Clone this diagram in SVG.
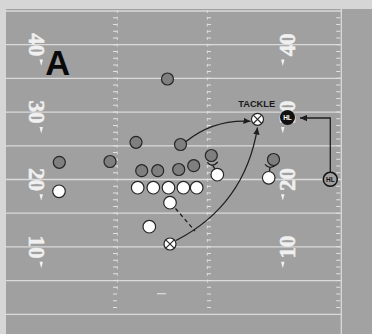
<svg xmlns="http://www.w3.org/2000/svg" width="372" height="334" viewBox="0 0 372 334">
<defs>
<style>
.yl{stroke:#dadada;stroke-width:1.3}
.tk{stroke:#e2e2e2;stroke-width:4;stroke-dasharray:1 5.74}
.hl{stroke:#e2e2e2;stroke-width:1;stroke-dasharray:3 3.74;opacity:.85}
.num{font-family:"Liberation Serif",serif;font-weight:bold;font-size:23px;fill:#f0f0f0;stroke:#f0f0f0;stroke-width:.5;text-anchor:middle}
.tri{fill:#f0f0f0}
.def{fill:#7f7f7f;stroke:#262626;stroke-width:1.2}
.off{fill:#ffffff;stroke:#262626;stroke-width:1.2}
.x{stroke:#262626;stroke-width:1.1}
.conn{fill:none;stroke:#1e1e1e;stroke-width:1.3}
.lbl{font-family:"Liberation Sans",Arial,sans-serif;font-weight:bold;text-anchor:middle}
</style>
<marker id="ah" viewBox="0 0 10 10" refX="10" refY="5" markerWidth="7" markerHeight="7" markerUnits="userSpaceOnUse" orient="auto">
<path d="M0,0.5 L10,5 L0,9.5 z" fill="#1e1e1e"/>
</marker>
</defs>
<rect x="0" y="0" width="372" height="334" fill="#d6d6d6"/>
<rect x="6" y="9" width="366" height="325" fill="#a0a0a0"/>
<rect x="342" y="9" width="29.5" height="325" fill="#a2a2a2"/>
<g id="field">
<line class="yl" x1="6" y1="11" x2="342" y2="11"/>
<line class="yl" x1="6" y1="44.7" x2="342" y2="44.7"/>
<line class="yl" x1="6" y1="78.4" x2="342" y2="78.4"/>
<line class="yl" x1="6" y1="112.1" x2="342" y2="112.1"/>
<line class="yl" x1="6" y1="145.8" x2="342" y2="145.8"/>
<line class="yl" x1="6" y1="179.5" x2="342" y2="179.5"/>
<line class="yl" x1="6" y1="213.2" x2="342" y2="213.2"/>
<line class="yl" x1="6" y1="246.9" x2="342" y2="246.9"/>
<line class="yl" x1="6" y1="280.6" x2="342" y2="280.6"/>
<line class="yl" x1="6" y1="314.3" x2="342" y2="314.3"/>
<line class="yl" x1="341.3" y1="9" x2="341.3" y2="334" stroke-width="1.5"/>
<line class="tk" x1="115" y1="17.2" x2="115" y2="309"/>
<line class="tk" x1="209" y1="17.2" x2="209" y2="309"/>
<line class="tk" x1="338.2" y1="17.2" x2="338.2" y2="309"/>
<line class="hl" x1="117.3" y1="10" x2="117.3" y2="290"/>
<line class="hl" x1="207.3" y1="10" x2="207.3" y2="286"/>
<line class="yl" x1="157" y1="293.7" x2="166" y2="293.7" stroke-width="1"/>
<text class="num" transform="translate(36,44.7) rotate(90)" x="0" y="7.5">40</text>
<text class="num" transform="translate(36,112.1) rotate(90)" x="0" y="7.5">30</text>
<text class="num" transform="translate(36,179.5) rotate(90)" x="0" y="7.5">20</text>
<text class="num" transform="translate(36,246.9) rotate(90)" x="0" y="7.5">10</text>
<polygon class="tri" points="39.5,59.5 43,59.5 41.2,66"/>
<polygon class="tri" points="39.5,126.9 43,126.9 41.2,133.4"/>
<polygon class="tri" points="39.5,194.3 43,194.3 41.2,200.8"/>
<polygon class="tri" points="39.5,261.7 43,261.7 41.2,268.2"/>
<text class="num" transform="translate(287.5,44.7) rotate(-90)" x="0" y="7.5">40</text>
<text class="num" transform="translate(287.5,112.1) rotate(-90)" x="0" y="7.5">30</text>
<text class="num" transform="translate(287.5,179.5) rotate(-90)" x="0" y="7.5">20</text>
<text class="num" transform="translate(287.5,246.9) rotate(-90)" x="0" y="7.5">10</text>
<polygon class="tri" points="281,59.5 284.5,59.5 282.8,66"/>
<polygon class="tri" points="281,126.9 284.5,126.9 282.8,133.4"/>
<polygon class="tri" points="281,194.3 284.5,194.3 282.8,200.8"/>
<polygon class="tri" points="281,261.7 284.5,261.7 282.8,268.2"/>
</g>
<text class="lbl" x="57.8" y="75" font-size="34.5" fill="#0a0a0a">A</text>
<g id="connectors">
<path class="conn" d="M186,141.5 Q214,119 250.5,121.3" marker-end="url(#ah)"/>
<path class="conn" d="M176,240.5 Q245,205 257.5,127.5" marker-end="url(#ah)"/>
<path class="conn" d="M330.3,172.3 V118 H300" marker-end="url(#ah)"/>
<path class="conn" d="M207.3,162.3 Q212.3,168.3 217.8,162"/>
<path class="conn" d="M212.6,165.3 L215,168.8"/>
<path class="conn" d="M265,164.3 Q270,170.3 276,164.8"/>
<path class="conn" d="M270,167.3 L269.4,171.3"/>
<path class="conn" d="M175.5,208.5 L195,231" stroke-dasharray="4 3"/>
</g>
<g id="d1"><circle class="def" cx="167.5" cy="79" r="6"/></g>
<g id="d2"><circle class="def" cx="136" cy="142.3" r="6"/></g>
<g id="d3"><circle class="def" cx="180.5" cy="144.5" r="6"/></g>
<g id="d4"><circle class="def" cx="110" cy="161.5" r="6"/></g>
<g id="d5"><circle class="def" cx="59.3" cy="162.3" r="6"/></g>
<g id="d6"><circle class="def" cx="141.7" cy="170.7" r="6"/></g>
<g id="d7"><circle class="def" cx="157.7" cy="170.7" r="6"/></g>
<g id="d8"><circle class="def" cx="178.7" cy="169.5" r="6"/></g>
<g id="d9"><circle class="def" cx="193.7" cy="165.7" r="6"/></g>
<g id="d10"><circle class="def" cx="211.3" cy="155.5" r="6"/></g>
<g id="d11"><circle class="def" cx="273.5" cy="159.5" r="6"/></g>
<g id="o1"><circle class="off" cx="137.7" cy="187.7" r="6.3"/></g>
<g id="o2"><circle class="off" cx="153.3" cy="187.7" r="6.3"/></g>
<g id="o3"><circle class="off" cx="168.5" cy="187.7" r="6.3"/></g>
<g id="o4"><circle class="off" cx="183.4" cy="187.7" r="6.3"/></g>
<g id="o5"><circle class="off" cx="196.7" cy="187.7" r="6.3"/></g>
<g id="o6"><circle class="off" cx="170" cy="202.7" r="6.3"/></g>
<g id="o7"><circle class="off" cx="149.3" cy="226.7" r="6.3"/></g>
<g id="o8"><circle class="off" cx="217.3" cy="174.7" r="6.3"/></g>
<g id="o9"><circle class="off" cx="59" cy="191.3" r="6.3"/></g>
<g id="o10"><circle class="off" cx="268.7" cy="177.8" r="6.3"/></g>
<g id="qb"><circle class="off" cx="170" cy="244" r="6"/><path class="x" d="M165.8,239.8 L174.2,248.2 M174.2,239.8 L165.8,248.2"/></g>
<g id="tackle"><circle class="off" cx="257.5" cy="119.3" r="6"/><path class="x" d="M253.3,115.1 L261.7,123.5 M261.7,115.1 L253.3,123.5"/><text class="lbl" x="256.7" y="106.7" font-size="9.3" fill="#1a1a1a">TACKLE</text></g>
<g id="hl1"><circle cx="287.5" cy="117.5" r="7.5" fill="#111"/><text class="lbl" x="287.5" y="119.8" font-size="6.5" fill="#fff">HL</text></g>
<g id="hl2"><circle cx="330.3" cy="179.3" r="7" fill="#a0a0a0" stroke="#111" stroke-width="1.5"/><text class="lbl" x="330.3" y="181.6" font-size="6.5" fill="#111">HL</text></g>
</svg>
